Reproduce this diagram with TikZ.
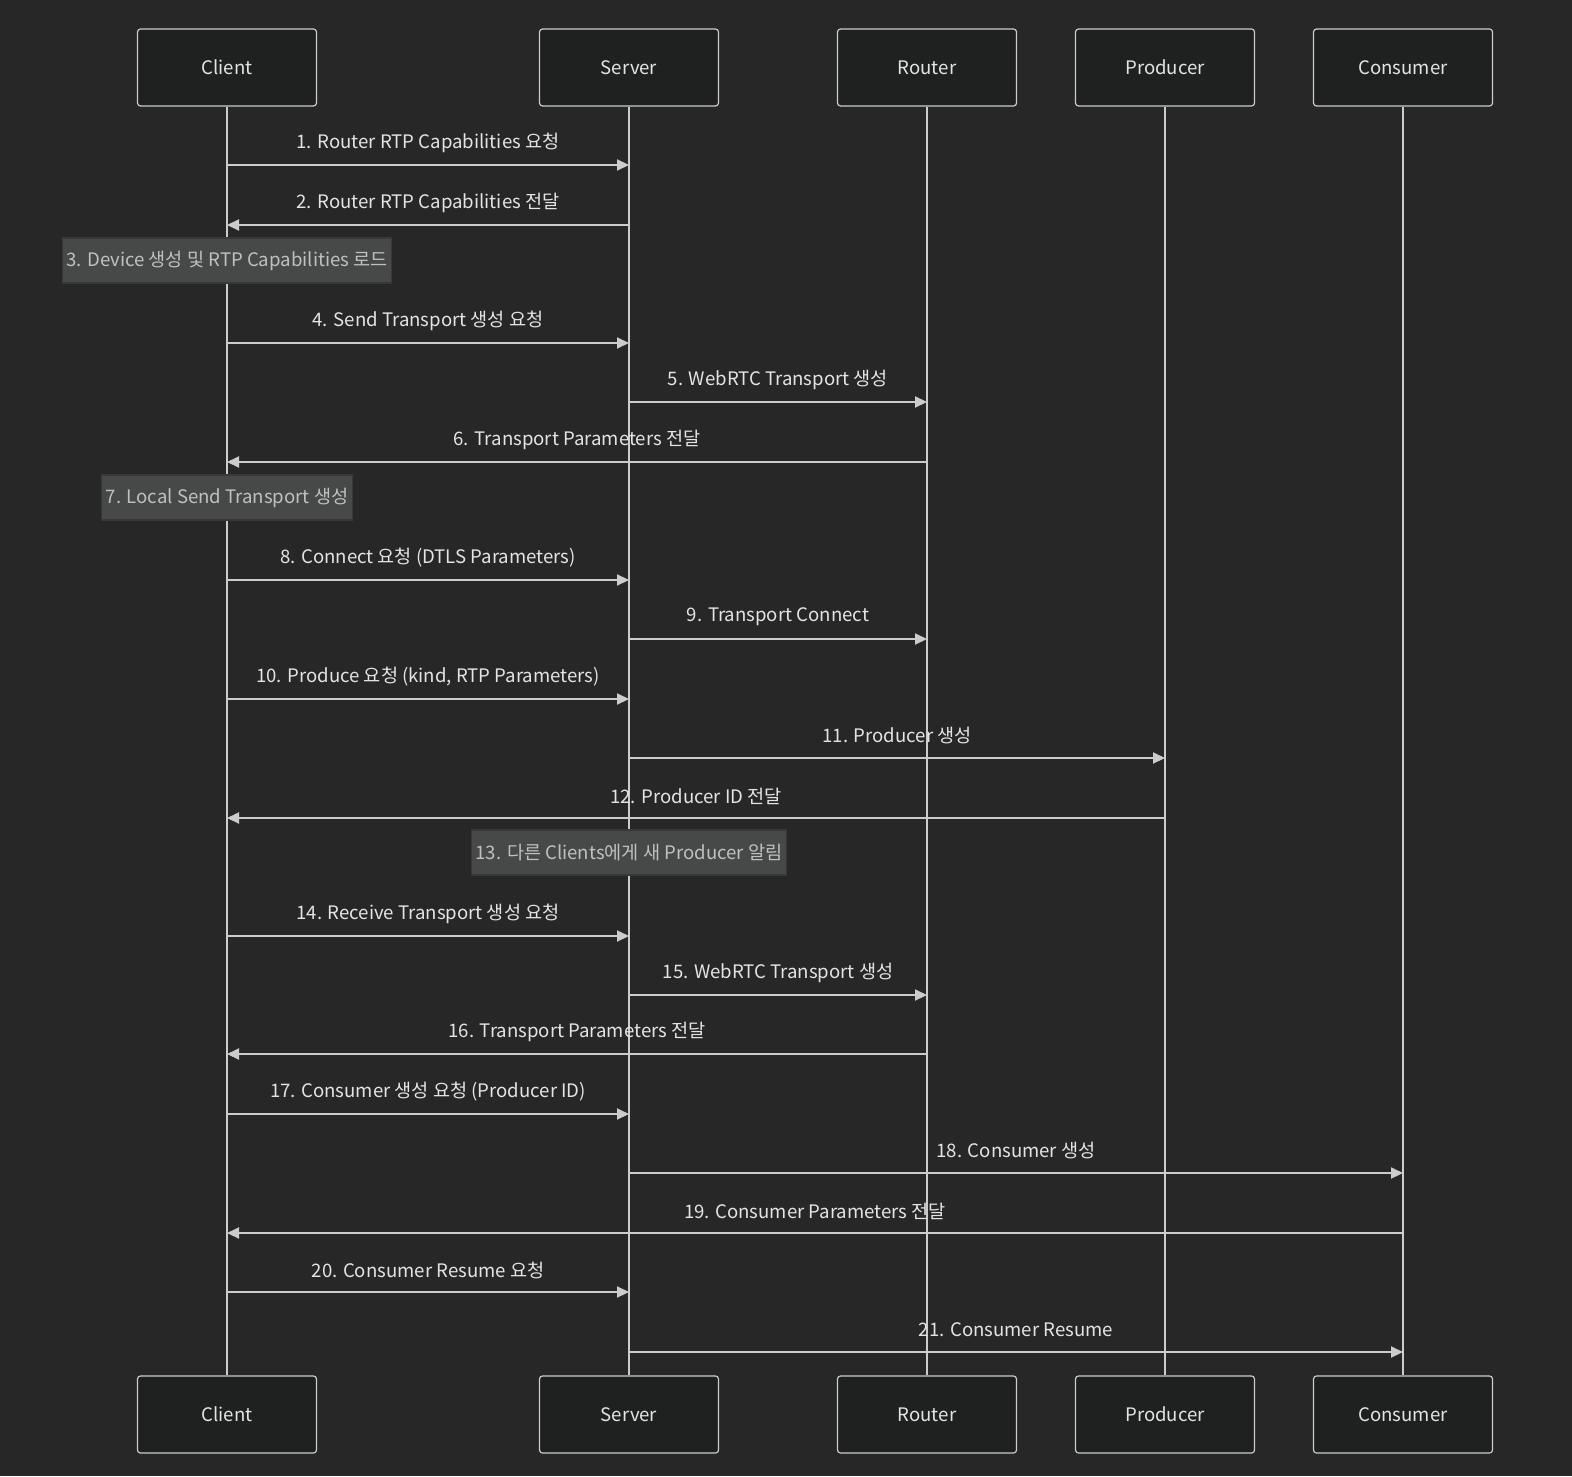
\documentclass[tikz,border=0pt]{standalone}
\usepackage{fontspec}
\setmainfont{Noto Sans CJK KR}
\usetikzlibrary{arrows.meta, positioning}

\definecolor{bgdark}{HTML}{272727}
\definecolor{boxfill}{HTML}{1F2020}
\definecolor{linegray}{HTML}{CCCCCC}
\definecolor{msgtext}{HTML}{E4E4E4}
\definecolor{notefill}{HTML}{474848}
\definecolor{noteborder}{HTML}{383838}
\definecolor{notetext}{HTML}{C0C0C0}

\begin{document}
\begin{tikzpicture}[
    x=0.5pt, y=-0.5pt,
    actor/.style={rectangle, draw=linegray, fill=boxfill, line width=0.6pt, rounded corners=1.5pt, minimum width=89.5pt, minimum height=38.5pt, font=\fontsize{9.3}{11}\selectfont, text=msgtext},
    life/.style={draw=linegray, line width=1pt},
    msg/.style={-{Triangle[length=6pt, width=5.5pt]}, draw=linegray, line width=1pt},
    lbl/.style={midway, yshift=11pt, font=\fontsize{9.3}{11}\selectfont, text=msgtext},
    note/.style={rectangle, fill=notefill, draw=noteborder, line width=0.6pt, minimum height=22.5pt, inner xsep=2pt, font=\fontsize{9.3}{11}\selectfont, text=notetext}
]

\useasboundingbox[fill=bgdark] (0,0) rectangle (1572,1476);

% Participants (top)
\node[actor] (client_top) at (227,67.5) {Client};
\node[actor] (server_top) at (629,67.5) {Server};
\node[actor] (router_top) at (927,67.5) {Router};
\node[actor] (producer_top) at (1165,67.5) {Producer};
\node[actor] (consumer_top) at (1403,67.5) {Consumer};

% Participants (bottom)
\node[actor] (client_bot) at (227,1414.5) {Client};
\node[actor] (server_bot) at (629,1414.5) {Server};
\node[actor] (router_bot) at (927,1414.5) {Router};
\node[actor] (producer_bot) at (1165,1414.5) {Producer};
\node[actor] (consumer_bot) at (1403,1414.5) {Consumer};

% Lifelines
\draw[life] (client_top) -- (client_bot);
\draw[life] (server_top) -- (server_bot);
\draw[life] (router_top) -- (router_bot);
\draw[life] (producer_top) -- (producer_bot);
\draw[life] (consumer_top) -- (consumer_bot);

% Rows
\coordinate (r1) at (0,165);
\coordinate (r2) at (0,225);
\coordinate (r3) at (0,260.5);
\coordinate (r4) at (0,343);
\coordinate (r5) at (0,402);
\coordinate (r6) at (0,462);
\coordinate (r7) at (0,497.5);
\coordinate (r8) at (0,580);
\coordinate (r9) at (0,639);
\coordinate (r10) at (0,699);
\coordinate (r11) at (0,758);
\coordinate (r12) at (0,818);
\coordinate (r13) at (0,852.5);
\coordinate (r14) at (0,936);
\coordinate (r15) at (0,995);
\coordinate (r16) at (0,1054);
\coordinate (r17) at (0,1114);
\coordinate (r18) at (0,1173);
\coordinate (r19) at (0,1233);
\coordinate (r20) at (0,1292);
\coordinate (r21) at (0,1352);

% Notes
\node[note] (note3) at (client_top |- r3) {3. Device 생성 및 RTP Capabilities 로드};
\node[note] (note7) at (client_top |- r7) {7. Local Send Transport 생성};
\node[note] (note13) at (server_top |- r13) {13. 다른 Clients에게 새 Producer 알림};

% Messages
\draw[msg] (client_top |- r1) -- node[lbl] {1. Router RTP Capabilities 요청} (server_top |- r1);
\draw[msg] (server_top |- r2) -- node[lbl] {2. Router RTP Capabilities 전달} (client_top |- r2);
\draw[msg] (client_top |- r4) -- node[lbl] {4. Send Transport 생성 요청} (server_top |- r4);
\draw[msg] (server_top |- r5) -- node[lbl] {5. WebRTC Transport 생성} (router_top |- r5);
\draw[msg] (router_top |- r6) -- node[lbl] {6. Transport Parameters 전달} (client_top |- r6);
\draw[msg] (client_top |- r8) -- node[lbl] {8. Connect 요청 (DTLS Parameters)} (server_top |- r8);
\draw[msg] (server_top |- r9) -- node[lbl] {9. Transport Connect} (router_top |- r9);
\draw[msg] (client_top |- r10) -- node[lbl] {10. Produce 요청 (kind, RTP Parameters)} (server_top |- r10);
\draw[msg] (server_top |- r11) -- node[lbl] {11. Producer 생성} (producer_top |- r11);
\draw[msg] (producer_top |- r12) -- node[lbl] {12. Producer ID 전달} (client_top |- r12);
\draw[msg] (client_top |- r14) -- node[lbl] {14. Receive Transport 생성 요청} (server_top |- r14);
\draw[msg] (server_top |- r15) -- node[lbl] {15. WebRTC Transport 생성} (router_top |- r15);
\draw[msg] (router_top |- r16) -- node[lbl] {16. Transport Parameters 전달} (client_top |- r16);
\draw[msg] (client_top |- r17) -- node[lbl] {17. Consumer 생성 요청 (Producer ID)} (server_top |- r17);
\draw[msg] (server_top |- r18) -- node[lbl] {18. Consumer 생성} (consumer_top |- r18);
\draw[msg] (consumer_top |- r19) -- node[lbl] {19. Consumer Parameters 전달} (client_top |- r19);
\draw[msg] (client_top |- r20) -- node[lbl] {20. Consumer Resume 요청} (server_top |- r20);
\draw[msg] (server_top |- r21) -- node[lbl] {21. Consumer Resume} (consumer_top |- r21);

\end{tikzpicture}
\end{document}
